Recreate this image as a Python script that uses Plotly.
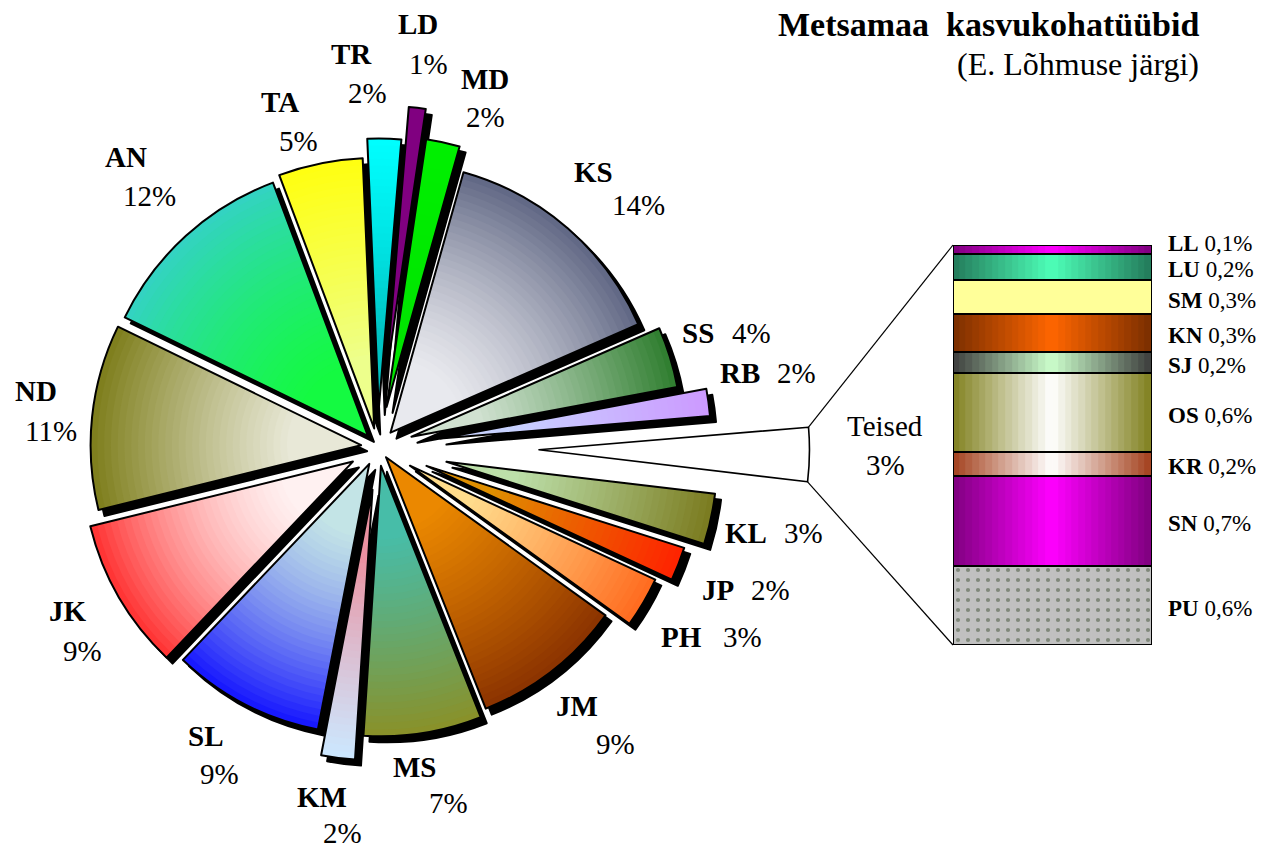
import math
import plotly.graph_objects as go

W, H = 1275, 848
OFF = 8   # page body margin of the html page, compensated

# ---------------- data ----------------
# pie slices, clockwise from the top
pie_labels = ["LD", "MD", "KS", "SS", "RB", "Teised", "KL", "JP", "PH",
              "JM", "MS", "KM", "SL", "JK", "ND", "AN", "TA", "TR"]
pie_values = [1, 2, 14, 3.6, 1.6, 3.2, 3, 2, 3,
              9, 7, 2, 9, 9, 11, 12, 5, 2]

# "Teised" breakdown, bottom to top of the bar
bar_labels = ["PU", "SN", "KR", "OS", "SJ", "KN", "SM", "LU", "LL"]
bar_values = [0.63, 0.72, 0.19, 0.63, 0.17, 0.30, 0.27, 0.21, 0.07]

# ---------------- style ----------------
FONT = "Liberation Serif"
CLEAR = "rgba(0,0,0,0)"
CX, CY, R = 378, 447, 270.5          # pie centre / radius in px (window coords)
ROT = 4.8
TEISED_PULL = 161
SHADOW_DX, SHADOW_DY = 6, 6
N_LAYERS = 30
NS = 30                              # strips per bar segment (gradient)
BAR_X0, BAR_X1, BAR_Y0, BAR_Y1 = 953, 1152, 245, 645

pull_px = {"LD": 71, "MD": 41, "KS": 19, "SS": 35, "RB": 63, "Teised": 0,
           "KL": 70, "JP": 52, "PH": 37, "JM": 13, "MS": 19, "KM": 43,
           "SL": 19, "JK": 29, "ND": 17, "AN": 15, "TA": 19, "TR": 38}

grad = {  # (inner colour, outer colour, gamma)
    "LD": ("#800080", "#800080", 1.0),
    "MD": ("#00E000", "#00F000", 1.0),
    "KS": ("#F8F8FA", "#5F6683", 1.7),
    "SS": ("#F2F6F2", "#2E7D2E", 1.3),
    "RB": ("#C6E6FF", "#CC99FF", 1.0),
    "Teised": ("#FFFFFF", "#FFFFFF", 1.0),
    "KL": ("#CCF8CC", "#7A7A1E", 1.2),
    "JP": ("#D2B400", "#FF2200", 1.0),
    "PH": ("#FFF8A8", "#FF6A1E", 1.2),
    "JM": ("#FF9A00", "#8A3200", 1.3),
    "MS": ("#36C8C8", "#8A9028", 1.2),
    "KM": ("#FF5A64", "#CCE8FF", 0.7),
    "SL": ("#D4F8E4", "#1414FF", 1.8),
    "JK": ("#FFFFFF", "#FF3030", 2.0),
    "ND": ("#FFFFFF", "#7D7D1A", 1.3),
    "AN": ("#10FF30", "#34D2C4", 1.6),
    "TA": ("#E4FFCC", "#FFFF10", 0.8),
    "TR": ("#009090", "#00FFFF", 0.6),
}

bar_grad = {  # (edge colour, centre colour)
    "PU": ("#C0C0C0", "#C0C0C0"),
    "SN": ("#7E007E", "#FF00FF"),
    "KR": ("#A3401C", "#FFFFFF"),
    "OS": ("#80801E", "#FFFFFF"),
    "SJ": ("#3C3C3C", "#CCFFCC"),
    "KN": ("#7A2E00", "#FF6600"),
    "SM": ("#FFFF99", "#FFFF99"),
    "LU": ("#237A5A", "#4DFFB8"),
    "LL": ("#7E007E", "#FF00FF"),
}
bar_label_shift = {"LL": 6, "LU": -3}   # px, default -3

# label centres in px (window coords): (code, percent)
label_pos = {
    "LD": ((418, 24), (428, 64)),
    "TR": ((352, 54), (367, 93)),
    "MD": ((485, 79), (485, 117)),
    "TA": ((280, 102), (298, 141)),
    "KS": ((593, 172), (638, 205)),
    "SS": ((698, 333), (751, 333)),
    "RB": ((740, 373), (797, 373)),
    "Teised": ((885, 426), (885, 465)),
    "KL": ((746, 533), (803, 533)),
    "JP": ((718, 590), (770, 590)),
    "PH": ((681, 637), (742, 637)),
    "JM": ((577, 706), (615, 744)),
    "MS": ((415, 767), (448, 803)),
    "KM": ((322, 797), (342, 833)),
    "SL": ((205, 736), (220, 774)),
    "JK": ((68, 611), (82, 651)),
    "ND": ((36, 391), (51, 431)),
    "AN": ((126, 157), (149, 196)),
}


def fx(px):
    return (px - OFF) / W


def fy(py):
    return 1 - (py - OFF) / H


def hex2rgb(h):
    h = h.lstrip("#")
    return tuple(int(h[i:i + 2], 16) for i in (0, 2, 4))


def mix(c1, c2, t):
    a, b = hex2rgb(c1), hex2rgb(c2)
    return "rgb(%d,%d,%d)" % tuple(round(a[i] + (b[i] - a[i]) * t) for i in range(3))


def dom(cx, cy, half):
    return dict(x=[fx(cx - half), fx(cx + half)], y=[fy(cy + half), fy(cy - half)])


def pie(colors, pulls, domain, line_colors=CLEAR, line_w=0):
    return go.Pie(values=pie_values, labels=pie_labels, sort=False,
                  direction="clockwise", rotation=ROT,
                  marker=dict(colors=colors, line=dict(color=line_colors, width=line_w)),
                  pull=pulls, domain=domain, textinfo="none",
                  hoverinfo="skip", showlegend=False)


fig = go.Figure()
maxp = max(pull_px.values())
is_t = [lab == "Teised" for lab in pie_labels]

# shadow
sh_cols = [CLEAR if t else "black" for t in is_t]
fig.add_trace(pie(sh_cols, [pull_px[l] / R for l in pie_labels],
                  dom(CX + SHADOW_DX, CY + SHADOW_DY, R + maxp), sh_cols, 2))

# gradient layers (outer -> inner)
rmin = maxp + 3
step = (R - rmin) / (N_LAYERS - 1)
for k in range(N_LAYERS):
    r = R - k * step
    t = max(r - step / 2, 0) / R
    cols = []
    for lab in pie_labels:
        ci, co, g = grad[lab]
        cols.append(CLEAR if lab == "Teised" else mix(ci, co, t ** g))
    fig.add_trace(pie(cols, [pull_px[l] / r for l in pie_labels], dom(CX, CY, r + maxp)))

# outlines
fig.add_trace(pie([CLEAR] * len(pie_labels), [pull_px[l] / R for l in pie_labels],
                  dom(CX, CY, R + maxp), [CLEAR if t else "black" for t in is_t], 2))

# exploded "Teised" slice
total = sum(pie_values)
ti = pie_labels.index("Teised")
a0 = math.radians(ROT + sum(pie_values[:ti]) / total * 360)
a1 = a0 + math.radians(pie_values[ti] / total * 360)
am = (a0 + a1) / 2
tcx = CX + TEISED_PULL * math.sin(am)
tcy = CY - TEISED_PULL * math.cos(am)
fig.add_trace(pie(["white" if t else CLEAR for t in is_t], 0, dom(tcx, tcy, R),
                  ["black" if t else CLEAR for t in is_t], 1.6))

# connector lines
p_top = (tcx + R * math.sin(a0), tcy - R * math.cos(a0))
p_bot = (tcx + R * math.sin(a1), tcy - R * math.cos(a1))
shapes = []
for (px, py), (qx, qy) in [(p_top, (BAR_X0, BAR_Y0)), (p_bot, (BAR_X0, BAR_Y1))]:
    shapes.append(dict(type="line", xref="paper", yref="paper",
                       x0=fx(px), y0=fy(py), x1=fx(qx), y1=fy(qy),
                       line=dict(color="black", width=1.2)))

# stacked bar with horizontal gradients (strips)
for lab, v in zip(bar_labels, bar_values):
    edge, centre = bar_grad[lab]
    cols = [mix(edge, centre, 1 - abs(2 * (i + 0.5) / NS - 1)) for i in range(NS)]
    fig.add_trace(go.Bar(x=list(range(NS)), y=[v] * NS, xaxis="x2", yaxis="y2", width=1,
                         marker=dict(color=cols, line=dict(color=cols, width=0.8)),
                         hoverinfo="skip", showlegend=False))
for lab, v in zip(bar_labels, bar_values):
    mk = dict(color=CLEAR, line=dict(color="black", width=2))
    if lab == "PU":
        mk["pattern"] = dict(shape=".", fgcolor="#3F4F36", fillmode="overlay",
                             size=10, solidity=0.14)
    fig.add_trace(go.Bar(x=[0], y=[v], xaxis="x3", yaxis="y2", width=1, marker=mk,
                         hoverinfo="skip", showlegend=False))

# annotations
ann = []
LF = 29
for lab, val in zip(pie_labels, pie_values):
    (x1, y1), (x2, y2) = label_pos[lab]
    code = lab if lab == "Teised" else "<b>%s</b>" % lab
    ann.append(dict(x=fx(x1), y=fy(y1), text=code))
    ann.append(dict(x=fx(x2), y=fy(y2), text="%d%%" % round(val)))
for a in ann:
    a.update(xref="paper", yref="paper", xanchor="center", yanchor="middle",
             showarrow=False, font=dict(family=FONT, size=LF, color="black"))

cum = 0
for lab, v in zip(bar_labels, bar_values):
    pct = ("%.1f" % v).replace(".", ",") + "%"
    ann.append(dict(x=fx(BAR_X1 + 14), y=cum + v / 2, xref="paper", yref="y2",
                    xanchor="left", yanchor="middle", showarrow=False,
                    yshift=bar_label_shift.get(lab, -3),
                    text="<b>%s</b> %s" % (lab, pct),
                    font=dict(family=FONT, size=23, color="black")))
    cum += v

ann.append(dict(x=fx(1201), y=fy(25), xref="paper", yref="paper", xanchor="right",
                yanchor="middle", showarrow=False,
                text="<b>Metsamaa\u00a0 kasvukohatüübid</b>",
                font=dict(family=FONT, size=34, color="black")))
ann.append(dict(x=fx(1201), y=fy(64), xref="paper", yref="paper", xanchor="right",
                yanchor="middle", showarrow=False, text="(E. Lõhmuse järgi)",
                font=dict(family=FONT, size=32, color="black")))

fig.update_layout(
    width=W, height=H, margin=dict(l=0, r=0, t=0, b=0),
    paper_bgcolor="white", plot_bgcolor="rgba(0,0,0,0)",
    barmode="stack", bargap=0, font=dict(family=FONT),
    xaxis2=dict(domain=[fx(BAR_X0), fx(BAR_X1)], range=[-0.5, NS - 0.5],
                visible=False, anchor="y2", fixedrange=True),
    xaxis3=dict(overlaying="x2", range=[-0.5, 0.5], visible=False, anchor="y2",
                fixedrange=True),
    yaxis2=dict(domain=[fy(BAR_Y1), fy(BAR_Y0)], range=[0, sum(bar_values)],
                visible=False, anchor="x2", fixedrange=True),
    shapes=shapes, annotations=ann,
)

fig.write_html("out.html")
